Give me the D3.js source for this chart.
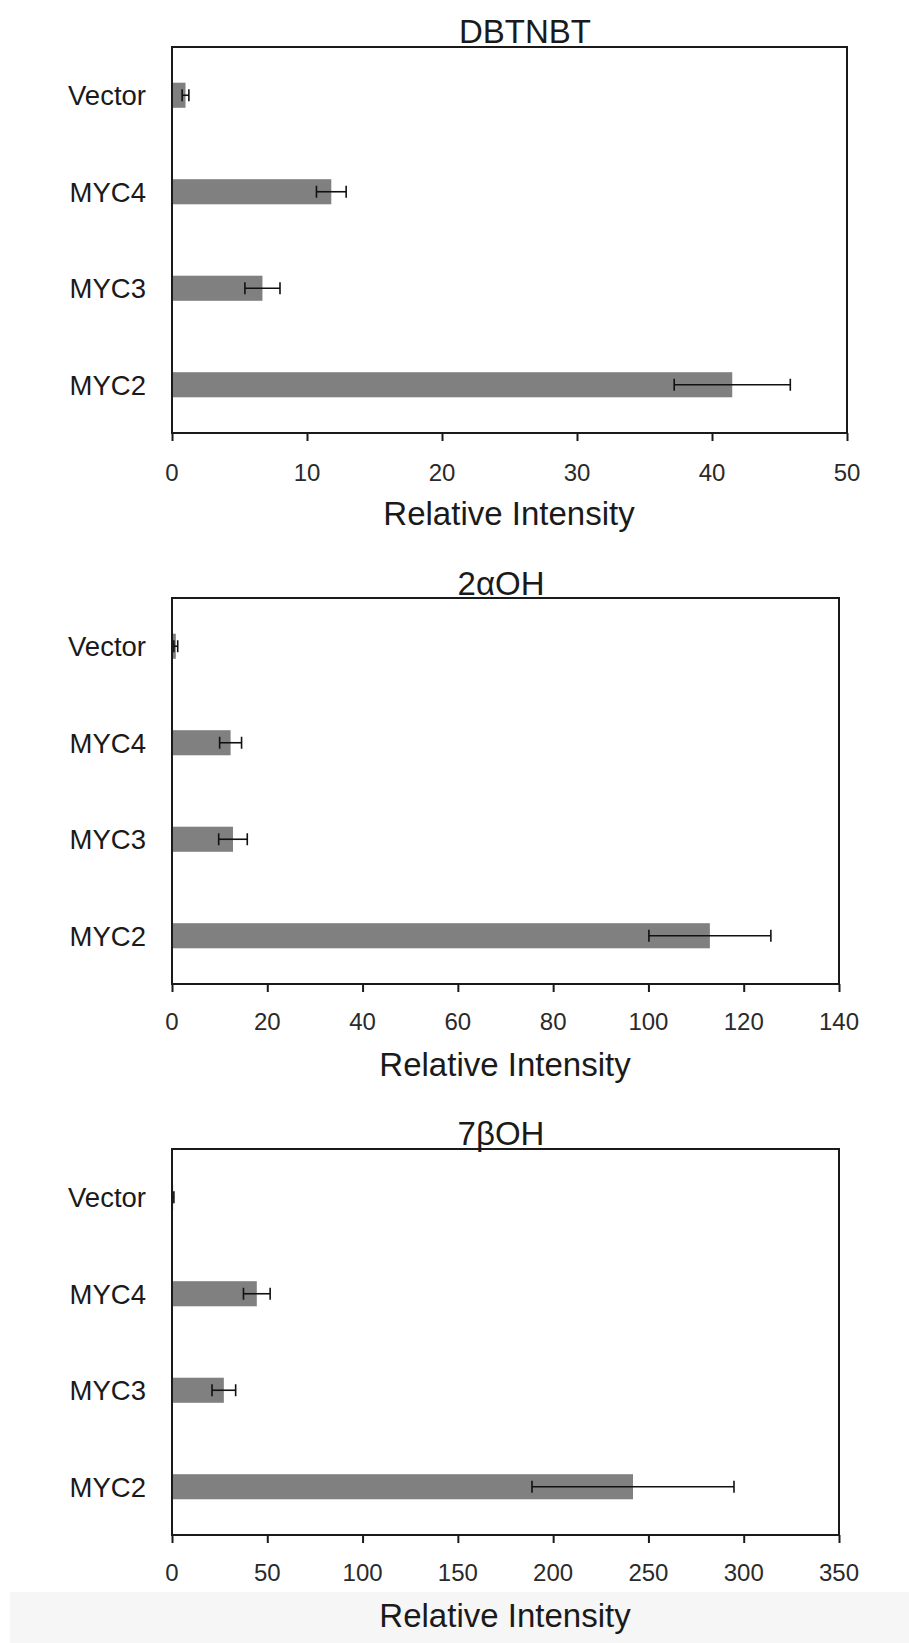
<!DOCTYPE html>
<html>
<head>
<meta charset="utf-8">
<script src="https://cdn.jsdelivr.net/npm/d3@7"></script>
<style>
  body { margin: 0; background: #fff; }
  text { font-family: "Liberation Sans", Arial, sans-serif; fill: #1a1a1a; }
</style>
</head>
<body>
<div id="chart"></div>
<script>
// categories, top to bottom
var categories = ["Vector", "MYC4", "MYC3", "MYC2"];

// DBTNBT panel
var dbtnbtMeans = [1.0, 11.8, 6.7, 41.5];
var dbtnbtErrors = [0.25, 1.1, 1.3, 4.3];
var dbtnbtTicks = [0, 10, 20, 30, 40, 50];

// 2aOH panel
var alphaMeans = [0.8, 12.3, 12.8, 112.9];
var alphaErrors = [0.4, 2.3, 3.0, 12.8];
var alphaTicks = [0, 20, 40, 60, 80, 100, 120, 140];

// 7bOH panel
var betaMeans = [0.6, 44.5, 27.2, 241.9];
var betaErrors = [0.4, 7.0, 6.2, 53.0];
var betaTicks = [0, 50, 100, 150, 200, 250, 300, 350];

var axisTitle = "Relative Intensity";

var svgWidth = 909;
var svgHeight = 1643;

var svg = d3.select("#chart")
  .append("svg")
  .attr("width", svgWidth)
  .attr("height", svgHeight);

// light grey strip at the very bottom of the picture
svg.append("rect")
  .attr("x", 10)
  .attr("y", 1592)
  .attr("width", svgWidth - 10)
  .attr("height", svgHeight - 1592)
  .attr("fill", "#f6f6f6");

var panels = [
  { title: "DBTNBT", means: dbtnbtMeans, errors: dbtnbtErrors, ticks: dbtnbtTicks,
    left: 172, right: 847, top: 47, bottom: 433, titleX: 525, titleY: 43, tickY: 481, axisY: 525, axisX: 509 },
  { title: "2\u03b1OH", means: alphaMeans, errors: alphaErrors, ticks: alphaTicks,
    left: 172, right: 839, top: 598, bottom: 984, titleX: 501, titleY: 595, tickY: 1030, axisY: 1076, axisX: 505 },
  { title: "7\u03b2OH", means: betaMeans, errors: betaErrors, ticks: betaTicks,
    left: 172, right: 839, top: 1149, bottom: 1535, titleX: 501, titleY: 1145, tickY: 1581, axisY: 1627, axisX: 505 }
];

function drawPanel(p) {
  var g = svg.append("g");

  var data = categories.map(function (c, i) {
    return { cat: c, mean: p.means[i], err: p.errors[i] };
  });

  var x = d3.scaleLinear()
    .domain([0, d3.max(p.ticks)])
    .range([p.left, p.right]);

  var y = d3.scaleBand()
    .domain(categories)
    .range([p.top, p.bottom])
    .paddingInner(0.74)
    .paddingOuter(0.37);

  // bars
  g.selectAll("rect.bar")
    .data(data)
    .enter()
    .append("rect")
    .attr("class", "bar")
    .attr("x", x(0))
    .attr("y", d => y(d.cat))
    .attr("width", d => x(d.mean) - x(0))
    .attr("height", y.bandwidth())
    .attr("fill", "#808080");

  // error bars
  var cap = 6;
  var eb = g.selectAll("g.err")
    .data(data)
    .enter()
    .append("g")
    .attr("class", "err")
    .attr("stroke", "#111")
    .attr("stroke-width", 1.6);

  eb.append("line")
    .attr("x1", d => x(Math.max(0, d.mean - d.err)))
    .attr("x2", d => x(d.mean + d.err))
    .attr("y1", d => y(d.cat) + y.bandwidth() / 2)
    .attr("y2", d => y(d.cat) + y.bandwidth() / 2);

  eb.append("line")
    .attr("x1", d => x(Math.max(0, d.mean - d.err)))
    .attr("x2", d => x(Math.max(0, d.mean - d.err)))
    .attr("y1", d => y(d.cat) + y.bandwidth() / 2 - cap)
    .attr("y2", d => y(d.cat) + y.bandwidth() / 2 + cap);

  eb.append("line")
    .attr("x1", d => x(d.mean + d.err))
    .attr("x2", d => x(d.mean + d.err))
    .attr("y1", d => y(d.cat) + y.bandwidth() / 2 - cap)
    .attr("y2", d => y(d.cat) + y.bandwidth() / 2 + cap);

  // plot frame
  g.append("rect")
    .attr("x", p.left)
    .attr("y", p.top)
    .attr("width", p.right - p.left)
    .attr("height", p.bottom - p.top)
    .attr("fill", "none")
    .attr("stroke", "#1a1a1a")
    .attr("stroke-width", 2);

  // x axis ticks
  var xAxis = g.append("g")
    .attr("transform", `translate(0, ${p.bottom})`)
    .call(d3.axisBottom(x).tickValues(p.ticks).tickSize(8).tickSizeOuter(0));
  xAxis.select(".domain").remove();
  xAxis.selectAll(".tick line").attr("stroke", "#1a1a1a").attr("stroke-width", 2);
  xAxis.selectAll(".tick text").remove();

  // tick labels
  g.selectAll("text.tickl")
    .data(p.ticks)
    .enter()
    .append("text")
    .attr("class", "tickl")
    .attr("x", d => x(d))
    .attr("y", p.tickY)
    .attr("text-anchor", "middle")
    .style("font-size", "24px")
    .style("fill", "#2a2a2a")
    .text(d => d);

  // category labels
  g.selectAll("text.cat")
    .data(categories)
    .enter()
    .append("text")
    .attr("class", "cat")
    .attr("x", 146)
    .attr("y", d => y(d) + y.bandwidth() / 2)
    .attr("dy", "0.36em")
    .attr("text-anchor", "end")
    .style("font-size", "27.5px")
    .text(d => d);

  // title
  g.append("text")
    .attr("x", p.titleX)
    .attr("y", p.titleY)
    .attr("text-anchor", "middle")
    .style("font-size", "33px")
    .text(p.title);

  // axis title
  g.append("text")
    .attr("x", p.axisX)
    .attr("y", p.axisY)
    .attr("text-anchor", "middle")
    .style("font-size", "33px")
    .text(axisTitle);
}

panels.forEach(drawPanel);
</script>
</body>
</html>
